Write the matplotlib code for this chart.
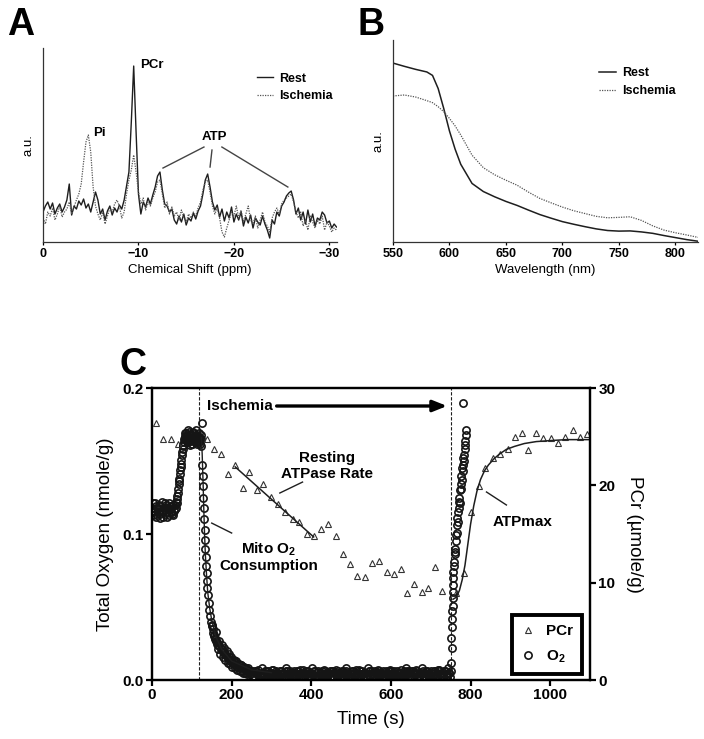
import numpy as np
import matplotlib
matplotlib.use('Agg')
import matplotlib.pyplot as plt

plt.rcParams['font.family'] = 'Liberation Sans'
plt.rcParams['mathtext.default'] = 'regular'

# ---- panel A : 31P spectrum (a.u.) ----
shift = np.arange(0, -30.8, -0.25)
a_rest = [30, 36, 40, 33, 39, 28, 34, 38, 30, 35,
          42, 58, 27, 36, 33, 41, 37, 43, 34, 38,
          30, 40, 50, 42, 28, 33, 22, 31, 36, 27,
          34, 30, 37, 33, 42, 56, 70, 120, 176, 110,
          48, 28, 40, 35, 44, 38, 47, 55, 66, 70,
          52, 38, 36, 30, 33, 22, 18, 26, 20, 28,
          17, 24, 21, 29, 23, 31, 36, 48, 62, 68,
          55, 40, 32, 37, 25, 33, 21, 30, 24, 35,
          20, 28, 22, 30, 16, 25, 19, 27, 14, 24,
          20, 17, 26, 18, 12, 4, 22, 18, 30, 26,
          36, 40, 46, 49, 51, 42, 28, 34, 22, 30,
          18, 32, 20, 28, 16, 24, 22, 30, 27, 19,
          21, 14, 18, 15]
a_isch = [24, 18, 30, 26, 34, 22, 28, 36, 25, 30,
          33, 40, 28, 35, 42, 48, 58, 80, 100, 107,
          90, 55, 36, 28, 22, 30, 18, 26, 34, 30,
          38, 42, 36, 24, 30, 48, 62, 72, 87, 70,
          50, 38, 44, 32, 40, 36, 44, 50, 60, 62,
          48, 34, 40, 28, 35, 26, 30, 22, 32, 25,
          20, 28, 24, 30, 26, 34, 40, 52, 60, 62,
          50, 36, 28, 34, 24, 10, 5, 14, 22, 30,
          26, 36, 24, 32, 20, 28, 36, 22, 18, 26,
          14, 22, 30, 20, 16, 10, 24, 30, 34, 28,
          38, 42, 44, 46, 48, 40, 30, 24, 30, 16,
          22, 12, 26, 20, 14, 22, 18, 26, 12, 20,
          16, 10, 14, 12]

# ---- panel B : optical spectrum (a.u.) ----
wl = [550, 560, 570, 580, 585, 590, 595, 600, 605, 610, 620, 630, 640, 650, 660,
      670, 680, 690, 700, 710, 720, 730, 740, 750, 760, 770, 780, 790, 800, 810, 820]
b_rest = [0.886, 0.870, 0.855, 0.842, 0.825, 0.760, 0.660, 0.550, 0.460, 0.385,
          0.290, 0.250, 0.224, 0.201, 0.181, 0.158, 0.136, 0.118, 0.101, 0.088,
          0.076, 0.065, 0.057, 0.054, 0.055, 0.050, 0.043, 0.032, 0.022, 0.012, 0.004]
b_isch = [0.723, 0.728, 0.718, 0.700, 0.690, 0.670, 0.645, 0.612, 0.575, 0.530,
          0.430, 0.368, 0.333, 0.306, 0.281, 0.247, 0.216, 0.194, 0.173, 0.155,
          0.141, 0.127, 0.120, 0.122, 0.125, 0.107, 0.080, 0.059, 0.046, 0.035, 0.023]

# ---- panel C : O2 (nmole/g) and PCr (umole/g) vs time ----
# baseline before ischemia
o2_t1 = np.arange(0, 61, 3)
o2_v1 = [0.118, 0.121, 0.115, 0.119, 0.113, 0.117, 0.120, 0.114, 0.116, 0.112, 0.118,
         0.121, 0.115, 0.117, 0.113, 0.119, 0.116, 0.114, 0.120, 0.117, 0.122]
o2_t1b = np.arange(1.5, 61, 3)
o2_v1b = [0.113, 0.116, 0.121, 0.112, 0.118, 0.115, 0.111, 0.119, 0.122, 0.116,
          0.114, 0.120, 0.112, 0.118, 0.121, 0.115, 0.119, 0.113, 0.116, 0.120]
# rise
o2_t2 = np.arange(62, 85, 2)
o2_v2 = [0.121, 0.126, 0.131, 0.136, 0.141, 0.146, 0.151, 0.156, 0.160, 0.163, 0.166, 0.167]
o2_t2b = np.arange(61, 85, 2)
o2_v2b = [0.118, 0.124, 0.128, 0.134, 0.138, 0.144, 0.148, 0.154, 0.158, 0.161, 0.165, 0.169]
# plateau
o2_t3 = np.arange(86, 125, 2)
o2_v3 = [0.165, 0.168, 0.163, 0.166, 0.170, 0.164, 0.167, 0.162, 0.166, 0.169,
         0.164, 0.167, 0.163, 0.166, 0.168, 0.164, 0.166, 0.162, 0.165, 0.160]
o2_t3b = np.arange(85, 125, 2)
o2_v3b = [0.169, 0.163, 0.167, 0.171, 0.165, 0.161, 0.168, 0.166, 0.162, 0.170,
          0.165, 0.163, 0.168, 0.171, 0.162, 0.167, 0.169, 0.163, 0.166, 0.168]
# mitochondrial O2 consumption
o2_t4 = [125, 126, 127, 128, 129, 130, 131, 132, 133, 134, 135, 136, 137, 138, 139, 140,
         142, 144, 146, 148, 150, 152, 154, 156, 158, 160,
         163, 166, 169, 172, 175, 178, 181, 184, 187, 190, 193, 196, 199, 202, 205, 208,
         211, 214, 217, 220, 224, 228, 232, 236, 240, 245]
o2_v4 = [0.176, 0.147, 0.140, 0.133, 0.125, 0.118, 0.110, 0.103, 0.096, 0.090, 0.084,
         0.078, 0.073, 0.068, 0.063, 0.058,
         0.053, 0.048, 0.044, 0.040, 0.037, 0.035, 0.032, 0.030, 0.028, 0.027,
         0.025, 0.021, 0.023, 0.018, 0.021, 0.016, 0.019, 0.014, 0.017, 0.012, 0.016,
         0.011, 0.014, 0.009, 0.013, 0.008, 0.012, 0.007, 0.011, 0.006,
         0.010, 0.005, 0.009, 0.006, 0.008, 0.004]
o2_t4b = np.arange(151.5, 250, 3)
o2_v4b = [0.038, 0.031, 0.029, 0.033, 0.026, 0.024, 0.027, 0.021, 0.024, 0.019,
          0.022, 0.017, 0.020, 0.015, 0.018, 0.013, 0.016, 0.012, 0.014, 0.010,
          0.013, 0.009, 0.011, 0.008, 0.010, 0.006, 0.009, 0.005, 0.008, 0.004,
          0.007, 0.005, 0.006]
# near-zero during ischemia
o2_t5 = np.arange(250, 751, 5)
o2_v5 = [0.006, 0.003, 0.005, 0.007, 0.004, 0.002, 0.005, 0.006, 0.003, 0.005,
         0.004, 0.007, 0.003, 0.005, 0.002, 0.006, 0.004, 0.003, 0.006, 0.004,
         0.005, 0.002, 0.004, 0.006, 0.003, 0.005, 0.007, 0.003, 0.004, 0.002,
         0.005, 0.004, 0.006, 0.003, 0.002, 0.005, 0.004, 0.006, 0.003, 0.005,
         0.003, 0.006, 0.004, 0.002, 0.005, 0.003, 0.006, 0.004, 0.005, 0.002,
         0.004, 0.006, 0.003, 0.005, 0.007, 0.004, 0.002, 0.005, 0.003, 0.006,
         0.004, 0.003, 0.006, 0.005, 0.002, 0.004, 0.006, 0.003, 0.005, 0.004,
         0.006, 0.003, 0.004, 0.002, 0.005, 0.007, 0.004, 0.003, 0.005, 0.006,
         0.003, 0.005, 0.004, 0.006, 0.002, 0.004, 0.005, 0.003, 0.006, 0.004,
         0.005, 0.003, 0.006, 0.004, 0.007, 0.005, 0.003, 0.006, 0.004, 0.005,
         0.006]
o2_t5b = np.arange(252.5, 750, 5)
o2_v5b = [0.002, 0.006, 0.004, 0.001, 0.005, 0.008, 0.003, 0.002, 0.006, 0.004,
          0.007, 0.002, 0.005, 0.003, 0.006, 0.001, 0.005, 0.008, 0.002, 0.006,
          0.003, 0.006, 0.002, 0.004, 0.007, 0.002, 0.004, 0.006, 0.001, 0.005,
          0.008, 0.002, 0.003, 0.006, 0.005, 0.002, 0.007, 0.003, 0.005, 0.002,
          0.006, 0.002, 0.007, 0.005, 0.003, 0.006, 0.002, 0.008, 0.003, 0.005,
          0.002, 0.004, 0.007, 0.002, 0.003, 0.006, 0.005, 0.002, 0.008, 0.003,
          0.006, 0.002, 0.004, 0.007, 0.005, 0.002, 0.003, 0.006, 0.002, 0.007,
          0.003, 0.006, 0.002, 0.005, 0.003, 0.002, 0.006, 0.008, 0.002, 0.003,
          0.006, 0.002, 0.007, 0.003, 0.005, 0.008, 0.002, 0.006, 0.003, 0.002,
          0.003, 0.006, 0.002, 0.007, 0.004, 0.002, 0.006, 0.003, 0.008, 0.002]
o2_t5c = np.arange(251.25, 750, 5)
o2_v5c = [0.005, 0.003, 0.006, 0.004, 0.003, 0.005, 0.004, 0.006, 0.004, 0.003,
          0.005, 0.004, 0.006, 0.003, 0.004, 0.005, 0.003, 0.006, 0.004, 0.005,
          0.004, 0.005, 0.003, 0.006, 0.004, 0.003, 0.005, 0.004, 0.006, 0.003,
          0.004, 0.006, 0.005, 0.003, 0.004, 0.006, 0.003, 0.005, 0.004, 0.006,
          0.003, 0.005, 0.004, 0.006, 0.004, 0.003, 0.005, 0.006, 0.004, 0.003,
          0.006, 0.005, 0.004, 0.003, 0.006, 0.004, 0.005, 0.003, 0.004, 0.006,
          0.005, 0.004, 0.003, 0.005, 0.006, 0.004, 0.003, 0.005, 0.004, 0.006,
          0.004, 0.003, 0.005, 0.006, 0.004, 0.005, 0.003, 0.004, 0.006, 0.005,
          0.003, 0.006, 0.004, 0.005, 0.003, 0.004, 0.006, 0.005, 0.004, 0.003,
          0.006, 0.004, 0.005, 0.003, 0.006, 0.004, 0.005, 0.006, 0.003, 0.005]
# reperfusion
o2_t6 = [752, 752, 753, 753, 754, 754, 755, 755, 756, 756, 757, 757, 758, 759, 760,
         761, 762, 763, 764, 765, 766, 767, 768, 769, 770, 771, 772, 773, 774, 775,
         776, 777, 778, 779, 780, 781, 782, 783, 784, 785, 786, 787, 788, 789, 780]
o2_v6 = [0.012, 0.029, 0.022, 0.036, 0.042, 0.047, 0.051, 0.056, 0.060, 0.065,
         0.070, 0.074, 0.078, 0.081, 0.086, 0.090, 0.088, 0.095, 0.099, 0.101,
         0.106, 0.111, 0.108, 0.115, 0.118, 0.122, 0.125, 0.121, 0.130, 0.134,
         0.131, 0.140, 0.137, 0.145, 0.147, 0.143, 0.152, 0.154, 0.150, 0.158,
         0.161, 0.164, 0.168, 0.171, 0.190]
o2_time = np.concatenate([o2_t1, o2_t1b, o2_t2, o2_t2b, o2_t3, o2_t3b, o2_t4, o2_t4b,
                          o2_t5, o2_t5b, o2_t5c, o2_t6])
o2_val = np.concatenate([o2_v1, o2_v1b, o2_v2, o2_v2b, o2_v3, o2_v3b, o2_v4, o2_v4b,
                         o2_v5, o2_v5b, o2_v5c, o2_v6])

# O2 decay fit
o2_fit_t = [124, 126, 128, 130, 132, 134, 137, 140, 145, 150, 160, 175, 200, 250, 300]
o2_fit_v = [0.166, 0.155, 0.138, 0.118, 0.100, 0.086, 0.072, 0.060, 0.049, 0.041,
            0.030, 0.021, 0.013, 0.007, 0.005]

pcr_t = [10, 28, 47, 65, 138, 155, 173, 190, 208, 228, 244, 263, 280, 299,
         317, 335, 353, 370, 390, 406, 425, 443, 461, 479, 496, 516, 534, 552,
         569, 589, 607, 625, 641, 659, 677, 694, 711, 729, 764, 784, 802, 820,
         837, 856, 874, 893, 911, 929, 945, 964, 982, 1001, 1019, 1037, 1056,
         1074, 1092]
pcr = [26.4, 24.8, 24.8, 24.3, 24.8, 23.7, 23.2, 21.2, 22.1, 19.7, 21.4, 19.5, 20.1,
       18.8, 18.1, 17.3, 16.5, 16.2, 15.0, 14.8, 15.5, 16.0, 14.8, 13.0, 11.9, 10.7,
       10.6, 12.0, 12.2, 11.1, 10.9, 11.4, 8.9, 9.9, 9.0, 9.5, 11.6, 9.1, 8.9, 11.0,
       17.3, 19.9, 21.8, 22.8, 23.2, 23.7, 25.0, 25.4, 23.6, 25.4, 24.9, 24.9, 24.4,
       25.0, 25.7, 25.0, 25.3]

# resting ATPase (linear fit) and ATPmax (recovery fit)
atpase_t = [209, 406]
atpase_v = [21.9, 14.7]
atpmax_t = [756, 764, 772, 779, 786, 793, 800, 808, 816, 825, 835, 845, 858, 872,
            890, 910, 935, 965, 1000, 1040, 1100]
atpmax_v = [8.3, 8.5, 9.2, 10.3, 11.8, 13.9, 16.0, 17.9, 19.4, 20.6, 21.5, 22.1,
            22.7, 23.2, 23.7, 24.0, 24.3, 24.5, 24.6, 24.7, 24.7]

ischemia_start = 118
ischemia_end = 752

fig = plt.figure(figsize=(7.04, 7.39), dpi=100)
dark = '#1e1e1e'

# ---------------- A ----------------
axA = fig.add_axes([0.0611, 0.6725, 0.4176, 0.2625])
axA.plot(shift, a_rest, color=dark, lw=1.0, label='Rest')
axA.plot(shift, a_isch, color='#555555', lw=0.9, ls=(0, (1, 1)), label='Ischemia')
axA.set_xlim(0, -30.8)
axA.set_ylim(0, 194)
axA.set_yticks([])
axA.set_xticks([0, -10, -20, -30])
for s in ['top', 'right']:
    axA.spines[s].set_visible(False)
for s in ['left', 'bottom']:
    axA.spines[s].set_linewidth(0.9)
    axA.spines[s].set_color('#333333')
axA.tick_params(axis='x', length=2.5, width=0.9, labelsize=9, pad=2)
for lab in axA.get_xticklabels():
    lab.set_fontweight('bold')
axA.set_xlabel('Chemical Shift (ppm)', fontsize=9.5, labelpad=3)
axA.set_ylabel('a.u.', fontsize=9.5, labelpad=6)
axA.legend(frameon=False, loc='upper left', bbox_to_anchor=(0.69, 0.93),
           handlelength=1.3, handletextpad=0.5, labelspacing=0.45,
           prop={'weight': 'bold', 'size': 9})
axA.text(-10.15, 177, 'PCr', fontsize=9.5, fontweight='bold', va='center')
axA.text(-5.3, 109, 'Pi', fontsize=9.5, fontweight='bold', va='center')
axA.text(-18.0, 105, 'ATP', fontsize=9.5, fontweight='bold', ha='center', va='center')
axA.plot([-16.86, -12.57], [95, 74], color='#444444', lw=1)
axA.plot([-17.7, -17.5], [92, 75], color='#444444', lw=1)
axA.plot([-18.74, -25.65], [95, 55], color='#444444', lw=1)

# ---------------- B ----------------
axB = fig.add_axes([0.5582, 0.6725, 0.4332, 0.2733])
axB.plot(wl, b_rest, color=dark, lw=1.1, label='Rest')
axB.plot(wl, b_isch, color='#555555', lw=0.9, ls=(0, (1, 1)), label='Ischemia')
axB.set_xlim(550, 820)
axB.set_ylim(0, 1)
axB.set_yticks([])
axB.set_xticks([550, 600, 650, 700, 750, 800])
for s in ['top', 'right']:
    axB.spines[s].set_visible(False)
for s in ['left', 'bottom']:
    axB.spines[s].set_linewidth(0.9)
    axB.spines[s].set_color('#333333')
axB.tick_params(axis='x', length=2.5, width=0.9, labelsize=9, pad=2)
for lab in axB.get_xticklabels():
    lab.set_fontweight('bold')
axB.set_xlabel('Wavelength (nm)', fontsize=9.5, labelpad=3)
axB.set_ylabel('a.u.', fontsize=9.5, labelpad=6)
axB.legend(frameon=False, loc='upper left', bbox_to_anchor=(0.64, 0.92),
           handlelength=1.3, handletextpad=0.5, labelspacing=0.45,
           prop={'weight': 'bold', 'size': 9})

# ---------------- C ----------------
axC = fig.add_axes([0.2159, 0.0798, 0.6222, 0.3951])
axC2 = axC.twinx()

axC.axvline(ischemia_start, color=dark, lw=0.8, ls=(0, (3, 1.5)))
axC.axvline(ischemia_end, color=dark, lw=0.8, ls=(0, (3, 1.5)))
o2_line, = axC.plot(o2_time, o2_val, 'o', ms=5.2, mfc='none', mec='#151515', mew=1.2,
                    label='O$_2$')
axC.plot(o2_fit_t, o2_fit_v, color=dark, lw=1.0)
axC.set_xlim(0, 1100)
axC.set_ylim(0, 0.2)
axC.set_xticks([0, 200, 400, 600, 800, 1000])
axC.set_yticks([0.0, 0.1, 0.2])
axC.set_yticklabels(['0.0', '0.1', '0.2'])

pcr_line, = axC2.plot(pcr_t, pcr, '^', ms=5, mfc='none', mec='#333333', mew=0.8,
                      label='PCr')
axC2.plot(atpase_t, atpase_v, color=dark, lw=1.1)
axC2.plot(atpmax_t, atpmax_v, color=dark, lw=1.1)
axC2.set_ylim(0, 30)
axC2.set_yticks([0, 10, 20, 30])

for ax in (axC, axC2):
    for s in ax.spines.values():
        s.set_linewidth(1.6)
    ax.tick_params(direction='out', length=4, width=1.6, labelsize=11, pad=2)
for lab in axC.get_xticklabels() + axC.get_yticklabels() + axC2.get_yticklabels():
    lab.set_fontweight('bold')

axC.set_xlabel('Time (s)', fontsize=13.5, labelpad=6)
axC.set_ylabel('Total Oxygen (nmole/g)', fontsize=13.5, labelpad=6)
axC2.set_ylabel('PCr (\u00b5mole/g)', fontsize=13.5, rotation=270, labelpad=20)

axC.text(138, 0.1877, 'Ischemia', fontsize=11, fontweight='bold', va='center', ha='left')
axC.annotate('', xy=(741, 0.1877), xytext=(313, 0.1877),
             arrowprops=dict(arrowstyle='-|>,head_length=0.7,head_width=0.28',
                             lw=2.4, color='black', mutation_scale=12,
                             shrinkA=0, shrinkB=0))
axC.text(439, 0.1466, 'Resting\nATPase Rate', fontsize=11, fontweight='bold',
         ha='center', va='center', linespacing=1.1)
axC.plot([378, 321], [0.1356, 0.1281], color=dark, lw=1)
axC.text(293, 0.0842, 'Mito O$_2$\nConsumption', fontsize=11, fontweight='bold',
         ha='center', va='center', linespacing=1.1)
axC.plot([150, 200], [0.1075, 0.1007], color=dark, lw=1)
axC.text(930, 0.1082, 'ATPmax', fontsize=11, fontweight='bold', ha='center', va='center')
axC.plot([840, 890], [0.1288, 0.1199], color=dark, lw=1)

leg = axC2.legend(handles=[pcr_line, o2_line], loc='lower right',
                  bbox_to_anchor=(0.982, 0.02), borderaxespad=0, fancybox=False,
                  framealpha=1, edgecolor='black', handlelength=0.8,
                  handletextpad=0.8, borderpad=0.6, labelspacing=0.7,
                  prop={'weight': 'bold', 'size': 11})
leg.get_frame().set_linewidth(2.8)

fig.text(7 / 704, 1 - 35 / 739, 'A', fontsize=27, fontweight='bold', va='baseline')
fig.text(358 / 704, 1 - 35 / 739, 'B', fontsize=27, fontweight='bold', va='baseline')
fig.text(120 / 704, 1 - 375 / 739, 'C', fontsize=27, fontweight='bold', va='baseline')

fig.savefig('out.png', dpi=100)
